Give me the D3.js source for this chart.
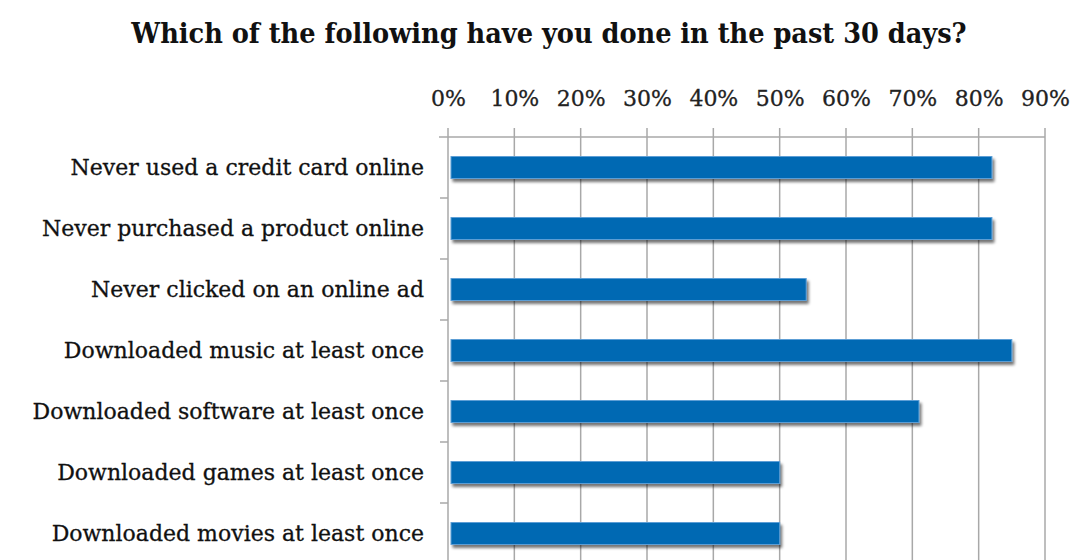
<!DOCTYPE html>
<html>
<head>
<meta charset="utf-8">
<script src="https://cdn.jsdelivr.net/npm/d3@7"></script>
<style>
  html, body { margin: 0; padding: 0; background: #fff; }
  svg { display: block; }
</style>
</head>
<body>
<svg id="chart" width="1077" height="560"></svg>
<script>
// Survey answers: share of respondents per activity (fraction of 1)
const categories = [
  "Never used a credit card online",
  "Never purchased a product online",
  "Never clicked on an online ad",
  "Downloaded music at least once",
  "Downloaded software at least once",
  "Downloaded games at least once",
  "Downloaded movies at least once"
];
const values = [0.82, 0.82, 0.54, 0.85, 0.71, 0.50, 0.50];
const tickValues = [0, 0.1, 0.2, 0.3, 0.4, 0.5, 0.6, 0.7, 0.8, 0.9];
const title = "Which of the following have you done in the past 30 days?";

const svg = d3.select("#chart");
const W = 1077, H = 560;
const margin = { top: 137, left: 448, right: 32 };
const plotBottom = 564;

const x = d3.scaleLinear().domain([0, 0.9]).range([margin.left, W - margin.right]);
const y = d3.scaleBand().domain(categories).range([margin.top, plotBottom]).paddingInner(0.64).paddingOuter(0.32);
const yBands = d3.scaleBand().domain(categories).range([margin.top, plotBottom]);

const serif = "'DejaVu Serif', 'Liberation Serif', serif";
const serifCond = "'DejaVu Serif Condensed', 'DejaVu Serif', serif";

// Drop shadow used on bars
const defs = svg.append("defs");
const f = defs.append("filter").attr("id", "shadow").attr("x", "-5%").attr("y", "-40%").attr("width", "110%").attr("height", "200%");
f.append("feGaussianBlur").attr("in", "SourceAlpha").attr("stdDeviation", 1.6).attr("result", "b");
f.append("feOffset").attr("in", "b").attr("dx", 2).attr("dy", 3).attr("result", "o");
f.append("feComponentTransfer").attr("in", "o").attr("result", "s")
  .append("feFuncA").attr("type", "linear").attr("slope", 0.55);
const m = f.append("feMerge");
m.append("feMergeNode").attr("in", "s");
m.append("feMergeNode").attr("in", "SourceGraphic");

// Title
svg.append("text")
  .attr("x", 549).attr("y", 43)
  .attr("text-anchor", "middle")
  .attr("font-family", serifCond).attr("font-weight", "bold").attr("font-size", 28.5)
  .attr("fill", "#111")
  .text(title);

// Vertical gridlines with short ticks above the top axis
const grid = svg.append("g");
grid.selectAll("line").data(tickValues.slice(1)).join("line")
  .attr("x1", d => x(d)).attr("x2", d => x(d))
  .attr("y1", margin.top - 9).attr("y2", H + 10)
  .attr("stroke", "#a8a8a8").attr("stroke-width", 1.5);

// Top axis labels
const xAxis = d3.axisTop(x).tickValues(tickValues).tickFormat(d3.format(".0%")).tickSize(0).tickPadding(0);
const gx = svg.append("g").attr("transform", `translate(0,106)`).call(xAxis);
gx.select(".domain").remove();
gx.selectAll("text").attr("font-family", serif).attr("font-size", 22).attr("fill", "#222")
  .attr("stroke", "#222").attr("stroke-width", 0.3);

// Top axis line
svg.append("line")
  .attr("x1", margin.left - 9).attr("x2", x(0.9))
  .attr("y1", margin.top).attr("y2", margin.top)
  .attr("stroke", "#a8a8a8").attr("stroke-width", 1.5);

// Left axis line and category ticks
svg.append("line")
  .attr("x1", margin.left).attr("x2", margin.left)
  .attr("y1", margin.top - 9).attr("y2", H + 10)
  .attr("stroke", "#a8a8a8").attr("stroke-width", 1.5);
svg.append("g").selectAll("line").data(categories).join("line")
  .attr("x1", margin.left - 8).attr("x2", margin.left)
  .attr("y1", d => yBands(d) + yBands.bandwidth()).attr("y2", d => yBands(d) + yBands.bandwidth())
  .attr("stroke", "#a8a8a8").attr("stroke-width", 1.5);

// Bars
svg.append("g").selectAll("rect").data(values).join("rect")
  .attr("x", x(0) + 3)
  .attr("y", (d, i) => y(categories[i]))
  .attr("width", d => x(d) - x(0) - 3)
  .attr("height", y.bandwidth())
  .attr("fill", "#0069b3")
  .attr("stroke", "#5d9fd6").attr("stroke-width", 1)
  .attr("filter", "url(#shadow)");

// Category labels
svg.append("g").selectAll("text").data(categories).join("text")
  .attr("x", 424)
  .attr("y", d => y(d) + y.bandwidth() / 2)
  .attr("dy", "0.36em")
  .attr("text-anchor", "end")
  .attr("font-family", serif).attr("font-size", 22)
  .attr("fill", "#111")
  .attr("stroke", "#111").attr("stroke-width", 0.3)
  .text(d => d);
</script>
</body>
</html>
